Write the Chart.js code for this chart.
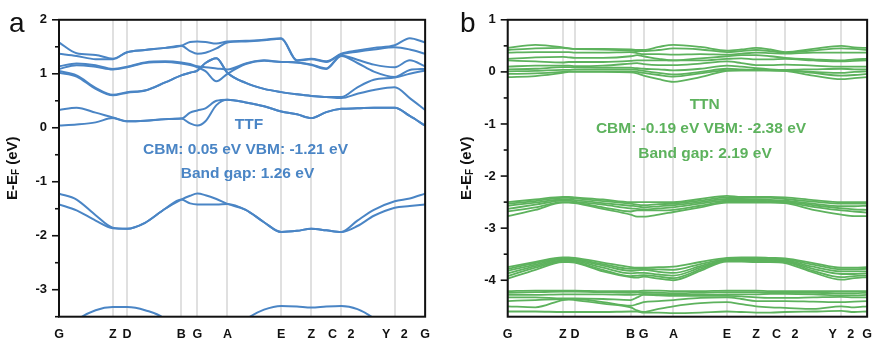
<!DOCTYPE html>
<html>
<head>
<meta charset="utf-8">
<script src="https://cdn.jsdelivr.net/npm/chart.js@4.4.0/dist/chart.umd.min.js"></script>
<style>
  body { margin: 0; background: #fff; width: 882px; height: 339px; position: relative; overflow: hidden; }
  .panel { position: absolute; top: 0; height: 339px; }
  #wrapA { left: 0; width: 440px; }
  #wrapB { left: 440px; width: 442px; }
</style>
</head>
<body>
<div class="panel" id="wrapA"><canvas id="chartA" width="440" height="339"></canvas></div>
<div class="panel" id="wrapB"><canvas id="chartB" width="442" height="339"></canvas></div>
<script>
// k-path (fraction of path length), same labels on both panels
const kLabels = ['G', 'Z', 'D', 'B', 'G', 'A', 'E', 'Z', 'C   2', 'Y   2', 'G'];
const kTicksA = [0, 0.147, 0.186, 0.334, 0.378, 0.460, 0.607, 0.689, 0.771, 0.917, 1.0];
const kTicksB = [0, 0.153, 0.187, 0.342, 0.378, 0.461, 0.610, 0.691, 0.772, 0.928, 1.0];

// sample points along the path for panel a
const kGridA = [0, 0.048, 0.100, 0.147, 0.186, 0.235, 0.290, 0.334, 0.358, 0.378, 0.400, 0.430, 0.460,
  0.510, 0.560, 0.607, 0.650, 0.689, 0.730, 0.771, 0.815, 0.860, 0.917, 0.958, 1.0];

// TTF bands (eV)
const a1 = [0.04, 0.06, 0.10, 0.18, 0.12, 0.13, 0.16, 0.17, 0.08, 0.04, 0.12, 0.42, 0.52, 0.47, 0.40, 0.30, 0.25, 0.18, 0.29, 0.35, 0.36, 0.37, 0.37, 0.22, 0.04];
const a2 = [0.33, 0.37, 0.28, 0.19, 0.12, 0.13, 0.16, 0.17, 0.28, 0.32, 0.36, 0.50, 0.52, 0.47, 0.40, 0.30, 0.25, 0.18, 0.29, 0.35, 0.36, 0.37, 0.37, 0.22, 0.04];
const a3 = [1.02, 0.95, 0.72, 0.60, 0.65, 0.69, 0.84, 0.97, 1.02, 1.06, 1.20, 1.29, 1.02, 0.83, 0.72, 0.66, 0.62, 0.59, 0.57, 0.55, 0.63, 0.70, 0.75, 0.55, 0.33];
const a4 = [1.05, 0.97, 0.74, 0.61, 0.66, 0.69, 0.84, 0.97, 1.02, 1.06, 1.20, 1.29, 1.02, 0.83, 0.72, 0.66, 0.62, 0.59, 0.57, 0.57, 0.75, 0.89, 0.93, 1.00, 1.06];
const a5 = [1.09, 1.16, 1.13, 1.08, 1.12, 1.20, 1.22, 1.19, 1.16, 1.12, 1.05, 0.86, 1.00, 1.18, 1.24, 1.22, 1.21, 1.16, 1.09, 1.33, 1.20, 1.04, 0.94, 1.07, 1.09];
const a6 = [1.14, 1.19, 1.16, 1.09, 1.13, 1.21, 1.23, 1.21, 1.18, 1.14, 1.12, 1.10, 1.08, 1.19, 1.25, 1.22, 1.21, 1.17, 1.10, 1.34, 1.26, 1.17, 1.12, 1.25, 1.14];
const a7 = [1.37, 1.33, 1.27, 1.27, 1.40, 1.44, 1.48, 1.52, 1.42, 1.37, 1.39, 1.47, 1.58, 1.60, 1.62, 1.65, 1.24, 1.27, 1.22, 1.36, 1.41, 1.45, 1.49, 1.45, 1.37];
const a8 = [1.58, 1.38, 1.35, 1.28, 1.40, 1.44, 1.48, 1.52, 1.59, 1.60, 1.59, 1.56, 1.60, 1.61, 1.63, 1.66, 1.25, 1.28, 1.23, 1.37, 1.43, 1.48, 1.53, 1.66, 1.58];
const v1 = [-1.22, -1.33, -1.62, -1.85, -1.87, -1.76, -1.50, -1.33, -1.26, -1.22, -1.25, -1.32, -1.41, -1.52, -1.75, -1.93, -1.91, -1.87, -1.90, -1.93, -1.72, -1.52, -1.36, -1.31, -1.22];
const v2 = [-1.42, -1.53, -1.72, -1.86, -1.87, -1.76, -1.50, -1.33, -1.40, -1.42, -1.42, -1.42, -1.41, -1.52, -1.75, -1.93, -1.91, -1.87, -1.90, -1.93, -1.82, -1.63, -1.48, -1.45, -1.42];
const v3 = [-3.95, -3.57, -3.38, -3.32, -3.32, -3.38, -3.55, -3.95, -4.10, -4.10, -4.10, -4.00, -3.85, -3.55, -3.37, -3.30, -3.31, -3.33, -3.31, -3.30, -3.36, -3.53, -3.85, -3.95, -3.95];

// sample points along the path for panel b
const kGridB = [0, 0.077, 0.153, 0.170, 0.187, 0.265, 0.342, 0.360, 0.378, 0.420, 0.461,
  0.536, 0.610, 0.650, 0.691, 0.731, 0.772, 0.850, 0.928, 0.964, 1.0];

// TTN bands (eV)
const t10 = [0.46, 0.52, 0.47, 0.45, 0.44, 0.44, 0.43, 0.42, 0.42, 0.48, 0.52, 0.48, 0.41, 0.43, 0.46, 0.43, 0.38, 0.44, 0.50, 0.47, 0.46];
const t9 = [0.42, 0.45, 0.46, 0.45, 0.44, 0.43, 0.41, 0.40, 0.40, 0.42, 0.45, 0.43, 0.38, 0.40, 0.42, 0.40, 0.37, 0.41, 0.45, 0.44, 0.42];
const t8 = [0.37, 0.38, 0.38, 0.38, 0.37, 0.37, 0.38, 0.36, 0.34, 0.34, 0.33, 0.34, 0.33, 0.35, 0.37, 0.36, 0.35, 0.37, 0.37, 0.37, 0.37];
const t7 = [0.25, 0.28, 0.29, 0.28, 0.27, 0.27, 0.30, 0.32, 0.30, 0.25, 0.22, 0.26, 0.30, 0.32, 0.32, 0.30, 0.27, 0.24, 0.22, 0.24, 0.25];
const t6 = [0.22, 0.20, 0.18, 0.19, 0.19, 0.19, 0.21, 0.22, 0.22, 0.22, 0.22, 0.22, 0.25, 0.26, 0.24, 0.24, 0.25, 0.22, 0.20, 0.21, 0.22];
const t5 = [0.10, 0.12, 0.12, 0.12, 0.11, 0.12, 0.16, 0.17, 0.15, 0.13, 0.13, 0.16, 0.20, 0.17, 0.13, 0.13, 0.14, 0.12, 0.10, 0.10, 0.10];
const t4 = [0.05, 0.06, 0.09, 0.09, 0.09, 0.08, 0.08, 0.07, 0.06, 0.05, 0.03, 0.06, 0.12, 0.10, 0.07, 0.05, 0.04, 0.05, 0.06, 0.05, 0.05];
const t3 = [0.01, 0.02, 0.04, 0.04, 0.05, 0.05, 0.05, 0.04, 0.02, -0.02, -0.05, 0.00, 0.06, 0.05, 0.04, 0.03, 0.02, 0.00, -0.02, 0.00, 0.01];
const t2 = [-0.04, -0.03, 0.00, 0.01, 0.01, 0.01, 0.01, 0.00, -0.02, -0.06, -0.09, -0.03, 0.03, 0.03, 0.03, 0.03, 0.03, -0.02, -0.07, -0.06, -0.04];
const t1 = [-0.10, -0.08, -0.02, 0.00, 0.00, 0.00, -0.01, -0.03, -0.07, -0.14, -0.19, -0.10, 0.02, 0.03, 0.03, 0.03, 0.02, -0.07, -0.14, -0.12, -0.10];

const u6 = [-2.50, -2.45, -2.40, -2.40, -2.41, -2.45, -2.50, -2.50, -2.50, -2.50, -2.50, -2.44, -2.38, -2.40, -2.40, -2.40, -2.41, -2.46, -2.50, -2.50, -2.50];
const u5 = [-2.53, -2.48, -2.42, -2.42, -2.43, -2.48, -2.53, -2.55, -2.56, -2.54, -2.53, -2.47, -2.41, -2.42, -2.42, -2.42, -2.44, -2.49, -2.53, -2.53, -2.53];
const u4 = [-2.57, -2.51, -2.45, -2.45, -2.46, -2.52, -2.57, -2.58, -2.60, -2.58, -2.56, -2.50, -2.44, -2.44, -2.45, -2.46, -2.47, -2.53, -2.58, -2.58, -2.57];
const u3 = [-2.63, -2.55, -2.47, -2.47, -2.49, -2.55, -2.62, -2.63, -2.64, -2.62, -2.60, -2.53, -2.47, -2.47, -2.47, -2.48, -2.49, -2.56, -2.62, -2.64, -2.65];
const u2 = [-2.68, -2.60, -2.50, -2.50, -2.51, -2.60, -2.68, -2.66, -2.66, -2.66, -2.65, -2.57, -2.49, -2.49, -2.49, -2.50, -2.51, -2.59, -2.66, -2.68, -2.70];
const u1 = [-2.77, -2.65, -2.51, -2.51, -2.52, -2.63, -2.74, -2.78, -2.78, -2.74, -2.69, -2.60, -2.51, -2.51, -2.51, -2.51, -2.52, -2.65, -2.74, -2.77, -2.77];

const w6 = [-3.75, -3.65, -3.56, -3.56, -3.57, -3.66, -3.75, -3.76, -3.76, -3.75, -3.74, -3.65, -3.57, -3.56, -3.56, -3.57, -3.58, -3.67, -3.76, -3.76, -3.75];
const w5 = [-3.78, -3.67, -3.58, -3.58, -3.59, -3.69, -3.78, -3.78, -3.78, -3.79, -3.80, -3.69, -3.59, -3.58, -3.58, -3.59, -3.60, -3.70, -3.79, -3.79, -3.78];
const w4 = [-3.82, -3.70, -3.60, -3.60, -3.61, -3.72, -3.82, -3.81, -3.80, -3.84, -3.86, -3.73, -3.61, -3.60, -3.60, -3.61, -3.62, -3.74, -3.83, -3.83, -3.83];
const w3 = [-3.87, -3.73, -3.62, -3.62, -3.63, -3.76, -3.87, -3.86, -3.86, -3.89, -3.91, -3.76, -3.62, -3.62, -3.62, -3.63, -3.64, -3.78, -3.88, -3.88, -3.87];
const w2 = [-3.92, -3.76, -3.64, -3.64, -3.65, -3.80, -3.92, -3.91, -3.90, -3.93, -3.96, -3.79, -3.63, -3.63, -3.64, -3.64, -3.65, -3.82, -3.94, -3.92, -3.91];
const w1 = [-3.97, -3.80, -3.65, -3.65, -3.66, -3.83, -3.94, -3.95, -3.93, -3.97, -4.00, -3.82, -3.64, -3.64, -3.65, -3.65, -3.67, -3.85, -3.99, -3.96, -3.94];

const x7 = [-4.21, -4.20, -4.20, -4.20, -4.20, -4.21, -4.21, -4.21, -4.20, -4.20, -4.21, -4.21, -4.20, -4.20, -4.20, -4.21, -4.21, -4.21, -4.21, -4.21, -4.21];
const x6 = [-4.24, -4.23, -4.22, -4.22, -4.22, -4.23, -4.24, -4.23, -4.23, -4.24, -4.25, -4.24, -4.23, -4.23, -4.23, -4.24, -4.24, -4.24, -4.25, -4.25, -4.24];
const x5 = [-4.28, -4.28, -4.27, -4.27, -4.27, -4.27, -4.28, -4.27, -4.26, -4.27, -4.28, -4.28, -4.27, -4.27, -4.27, -4.26, -4.26, -4.27, -4.29, -4.29, -4.28];
const x4 = [-4.33, -4.33, -4.35, -4.35, -4.35, -4.36, -4.38, -4.33, -4.28, -4.29, -4.30, -4.30, -4.30, -4.31, -4.33, -4.34, -4.34, -4.33, -4.32, -4.33, -4.33];
const x3 = [-4.40, -4.38, -4.36, -4.36, -4.36, -4.42, -4.49, -4.46, -4.42, -4.40, -4.38, -4.34, -4.33, -4.36, -4.40, -4.40, -4.40, -4.41, -4.42, -4.41, -4.40];
const x2 = [-4.50, -4.52, -4.38, -4.37, -4.38, -4.45, -4.52, -4.58, -4.61, -4.55, -4.50, -4.44, -4.42, -4.46, -4.50, -4.52, -4.53, -4.55, -4.50, -4.52, -4.50];
const x1 = [-4.60, -4.60, -4.61, -4.61, -4.61, -4.61, -4.60, -4.60, -4.62, -4.62, -4.63, -4.62, -4.60, -4.61, -4.62, -4.62, -4.61, -4.60, -4.59, -4.61, -4.60];

const notesA = ['TTF', 'CBM: 0.05 eV VBM: -1.21 eV', 'Band gap: 1.26 eV'];
const notesB = ['TTN', 'CBM: -0.19 eV VBM: -2.38 eV', 'Band gap: 2.19 eV'];

const BLUE = '#4a85c5';
const GREEN = '#5db25d';
const FAMILY = '"Liberation Sans", Arial, sans-serif';
const xTickFont = { family: FAMILY, size: 12.5, weight: 'bold' };
const yTickFont = { family: FAMILY, size: 13, weight: 'bold' };

function bandSets(grid, bands, color, width) {
  return bands.map(b => ({
    data: grid.map((x, i) => ({ x: x, y: b[i] })),
    borderColor: color,
    borderWidth: width,
    pointRadius: 0,
    fill: false,
    cubicInterpolationMode: 'monotone'
  }));
}

// frame, y tick marks, y title with subscript, panel letter, text notes
function decor(cfg) {
  return {
    id: 'decor',
    afterDraw(chart) {
      const c = chart.ctx;
      const a = chart.chartArea;
      const ys = chart.scales.y;
      c.save();
      c.strokeStyle = '#111';
      c.lineWidth = 1.6;
      ys.ticks.forEach(t => {
        const v2x = t.value * 2;
        if (Math.abs(v2x - Math.round(v2x)) > 1e-6) return;
        const major = Math.abs(t.value - Math.round(t.value)) < 1e-6;
        const py = ys.getPixelForValue(t.value);
        c.beginPath();
        c.moveTo(a.left - (major ? 7 : 4), py);
        c.lineTo(a.left, py);
        c.stroke();
      });
      c.lineWidth = 2;
      c.strokeRect(a.left, a.top, a.right - a.left, a.bottom - a.top);

      // E-E_F (eV)
      c.fillStyle = '#111';
      c.translate(cfg.titleX, (a.top + a.bottom) / 2);
      c.rotate(-Math.PI / 2);
      const big = 'bold 15px ' + FAMILY, small = 'bold 10px ' + FAMILY;
      c.font = big;
      const w1 = c.measureText('E-E').width, w3 = c.measureText(' (eV)').width;
      c.font = small;
      const w2 = c.measureText('F').width;
      let sx = -(w1 + w2 + w3) / 2;
      c.textBaseline = 'middle';
      c.textAlign = 'left';
      c.font = big; c.fillText('E-E', sx, 0); sx += w1;
      c.font = small; c.fillText('F', sx, 4); sx += w2;
      c.font = big; c.fillText(' (eV)', sx, 0);
      c.setTransform(1, 0, 0, 1, 0, 0);

      c.textBaseline = 'alphabetic';
      c.font = '28px ' + FAMILY;
      c.fillText(cfg.letter, cfg.letterX, 32);

      c.fillStyle = cfg.color;
      c.textAlign = 'center';
      c.font = 'bold 15.5px ' + FAMILY;
      cfg.notes.forEach((n, i) => c.fillText(n, cfg.noteX[i], cfg.noteY[i]));
      c.restore();
    }
  };
}

function makeChart(id, grid, ticksK, bands, color, width, ymin, ymax, pad, yWidth, deco) {
  return new Chart(document.getElementById(id), {
    type: 'line',
    data: { datasets: bandSets(grid, bands, color, width) },
    options: {
      responsive: false,
      animation: false,
      layout: { padding: pad },
      plugins: { legend: { display: false }, tooltip: { enabled: false } },
      scales: {
        x: {
          type: 'linear', min: 0, max: 1,
          afterBuildTicks: s => { s.ticks = ticksK.map(v => ({ value: v })); },
          afterFit: s => { s.height = 22.3; },
          grid: { color: '#e0e0e0', lineWidth: 2, drawTicks: false },
          border: { display: false },
          ticks: { autoSkip: false, maxRotation: 0, padding: 10, color: '#111', font: xTickFont,
            callback: (v, i) => kLabels[i] }
        },
        y: {
          min: ymin, max: ymax,
          afterFit: s => { s.width = yWidth; },
          grid: { display: false, drawTicks: false },
          border: { display: false },
          ticks: { stepSize: 0.5, padding: 12, color: '#111', font: yTickFont,
            callback: v => (Math.abs(v - Math.round(v)) < 1e-6 ? Math.round(v) : '') }
        }
      }
    },
    plugins: [decor(deco)]
  });
}

makeChart('chartA', kGridA, kTicksA, [a1, a2, a3, a4, a5, a6, a7, a8, v1, v2, v3], BLUE, 2,
  -3.5, 2, { left: 0, top: 17.5, right: 10, bottom: 0 }, 59,
  { letter: 'a', letterX: 9, titleX: 12.5, color: BLUE, notes: notesA,
    noteX: [249, 245.5, 247.5], noteY: [129.3, 154, 178] });

makeChart('chartB', kGridB, kTicksB,
  [t1, t2, t3, t4, t5, t6, t7, t8, t9, t10, u1, u2, u3, u4, u5, u6, w1, w2, w3, w4, w5, w6, x1, x2, x3, x4, x5, x6, x7],
  GREEN, 1.8, -4.7, 1, { left: 0, top: 18, right: 5.3, bottom: 0 }, 67.7,
  { letter: 'b', letterX: 20, titleX: 26.7, color: GREEN, notes: notesB,
    noteX: [264.7, 261, 265], noteY: [109.3, 132.7, 158.3] });
</script>
</body>
</html>
